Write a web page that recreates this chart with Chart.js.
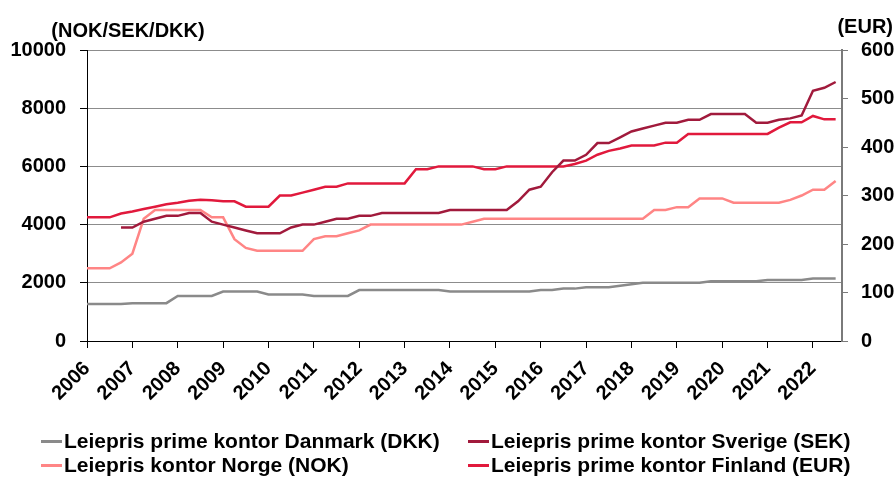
<!DOCTYPE html>
<html>
<head>
<meta charset="utf-8">
<script src="https://cdn.jsdelivr.net/npm/chart.js@4.4.1/dist/chart.umd.min.js"></script>
<style>
  html, body { margin: 0; padding: 0; background: #fff; }
  #wrap { position: relative; width: 895px; height: 477px; }
  #legend { position: absolute; left: 0; top: 0; width: 895px; height: 477px; pointer-events: none;
            font: bold 21px "Liberation Sans", Arial, sans-serif; color: #000; }
  .item { position: absolute; white-space: nowrap; line-height: 24px; }
  .item i { display: inline-block; width: 21px; height: 3px; vertical-align: middle; margin-right: 2px; position: relative; top: -1px; }
</style>
</head>
<body>
<div id="wrap">
  <canvas id="chart" width="895" height="477"></canvas>
  <div id="legend"></div>
</div>
<script>
// kvartalsdata, første punkt 2006 K1, siste 2022 K3
const startYear = 2006;
const years = [2006, 2007, 2008, 2009, 2010, 2011, 2012, 2013, 2014, 2015, 2016, 2017, 2018, 2019, 2020, 2021, 2022];

const danmark = [
  1275, 1275, 1275, 1275,  1300, 1300, 1300, 1300,  1550, 1550, 1550, 1550,
  1700, 1700, 1700, 1700,  1600, 1600, 1600, 1600,  1550, 1550, 1550, 1550,
  1750, 1750, 1750, 1750,  1750, 1750, 1750, 1750,  1700, 1700, 1700, 1700,
  1700, 1700, 1700, 1700,  1750, 1750, 1800, 1800,  1850, 1850, 1850, 1900,
  1950, 2000, 2000, 2000,  2000, 2000, 2000, 2050,  2050, 2050, 2050, 2050,
  2100, 2100, 2100, 2100,  2150, 2150, 2150
];
const sverige = [
  null, null, null, 3900,  3900, 4100, 4200, 4300,  4300, 4400, 4400, 4100,
  4000, 3900, 3800, 3700,  3700, 3700, 3900, 4000,  4000, 4100, 4200, 4200,
  4300, 4300, 4400, 4400,  4400, 4400, 4400, 4400,  4500, 4500, 4500, 4500,
  4500, 4500, 4800, 5200,  5300, 5800, 6200, 6200,  6400, 6800, 6800, 7000,
  7200, 7300, 7400, 7500,  7500, 7600, 7600, 7800,  7800, 7800, 7800, 7500,
  7500, 7600, 7650, 7750,  8600, 8700, 8900
];
const norge = [
  2500, 2500, 2500, 2700,  3000, 4200, 4500, 4500,  4500, 4500, 4500, 4250,
  4250, 3500, 3200, 3100,  3100, 3100, 3100, 3100,  3500, 3600, 3600, 3700,
  3800, 4000, 4000, 4000,  4000, 4000, 4000, 4000,  4000, 4000, 4100, 4200,
  4200, 4200, 4200, 4200,  4200, 4200, 4200, 4200,  4200, 4200, 4200, 4200,
  4200, 4200, 4500, 4500,  4600, 4600, 4900, 4900,  4900, 4750, 4750, 4750,
  4750, 4750, 4850, 5000,  5200, 5200, 5500
];
const finland = [
  255, 255, 255, 263,  267, 272, 277, 282,  285, 289, 291, 290,
  288, 288, 277, 277,  277, 300, 300, 306,  312, 318, 318, 325,
  325, 325, 325, 325,  325, 354, 354, 360,  360, 360, 360, 354,
  354, 360, 360, 360,  360, 360, 360, 365,  372, 384, 392, 397,
  403, 403, 403, 409,  409, 427, 427, 427,  427, 427, 427, 427,
  427, 440, 451, 451,  464, 457, 457
];

const leftTicks = [0, 2000, 4000, 6000, 8000, 10000];
const rightTicks = [0, 100, 200, 300, 400, 500, 600];

const FONT = '"Liberation Sans", Arial, sans-serif';
Chart.defaults.font.family = FONT;
Chart.defaults.color = '#000';

function pts(values) {
  return values.map((v, i) => ({ x: startYear + i / 4, y: v }));
}

const titles = {
  id: 'titles',
  afterDraw(chart) {
    const ctx = chart.ctx;
    const a = chart.chartArea;
    ctx.save();
    ctx.font = 'bold 20px ' + FONT;
    ctx.fillStyle = '#000';
    ctx.textBaseline = 'middle';
    ctx.textAlign = 'center';
    ctx.fillText('(NOK/SEK/DKK)', a.left + 41, 31);
    ctx.textAlign = 'right';
    ctx.fillText('(EUR)', chart.width - 2, 27);
    ctx.restore();
  }
};

const chart = new Chart(document.getElementById('chart'), {
  type: 'line',
  data: {
    datasets: [
      { label: 'Leiepris prime kontor Danmark (DKK)', data: pts(danmark), borderColor: '#8a8a8a', yAxisID: 'y' },
      { label: 'Leiepris prime kontor Sverige (SEK)', data: pts(sverige), borderColor: '#a11a3c', yAxisID: 'y' },
      { label: 'Leiepris kontor Norge (NOK)', data: pts(norge), borderColor: '#ff8585', yAxisID: 'y' },
      { label: 'Leiepris prime kontor Finland (EUR)', data: pts(finland), borderColor: '#e1193c', yAxisID: 'y1' }
    ]
  },
  options: {
    responsive: false,
    animation: false,
    layout: { padding: { top: 50, left: 0, right: 0, bottom: 0 } },
    elements: {
      line: { borderWidth: 2.5, tension: 0, fill: false },
      point: { radius: 0 }
    },
    plugins: { legend: { display: false }, tooltip: { enabled: false } },
    scales: {
      x: {
        type: 'linear',
        min: 2006,
        max: 2022.64,
        afterBuildTicks: s => { s.ticks = years.map(v => ({ value: v })); },
        afterFit: s => { s.height = 136; },
        ticks: { minRotation: 45, maxRotation: 45, padding: 9, font: { size: 20, weight: 'bold' }, callback: v => String(v) },
        grid: { drawOnChartArea: false, tickLength: 7, color: '#000' },
        border: { color: '#000', width: 1 }
      },
      y: {
        position: 'left',
        min: 0,
        max: 10000,
        afterBuildTicks: s => { s.ticks = leftTicks.map(v => ({ value: v })); },
        afterFit: s => { s.width = 87; },
        ticks: { padding: 14, font: { size: 20, weight: 'bold' }, callback: v => String(v) },
        grid: { color: '#8c8c8c', tickColor: '#000', tickLength: 7, lineWidth: 1 },
        border: { color: '#000', width: 1 }
      },
      y1: {
        position: 'right',
        min: 0,
        max: 600,
        afterBuildTicks: s => { s.ticks = rightTicks.map(v => ({ value: v })); },
        afterFit: s => { s.width = 53; },
        ticks: { padding: 13, font: { size: 20, weight: 'bold' }, callback: v => String(v) },
        grid: { drawOnChartArea: false, color: '#7a7a7a', tickLength: 6 },
        border: { color: '#7a7a7a', width: 2 }
      }
    }
  },
  plugins: [titles]
});

// forklaring i to kolonner
const legendPos = [[41, 429], [468, 429], [41, 453], [468, 453]];
const legendEl = document.getElementById('legend');
chart.data.datasets.forEach((ds, i) => {
  const d = document.createElement('div');
  d.className = 'item';
  d.style.left = legendPos[i][0] + 'px';
  d.style.top = legendPos[i][1] + 'px';
  d.innerHTML = '<i style="background:' + ds.borderColor + '"></i>' + ds.label;
  legendEl.appendChild(d);
});
</script>
</body>
</html>
